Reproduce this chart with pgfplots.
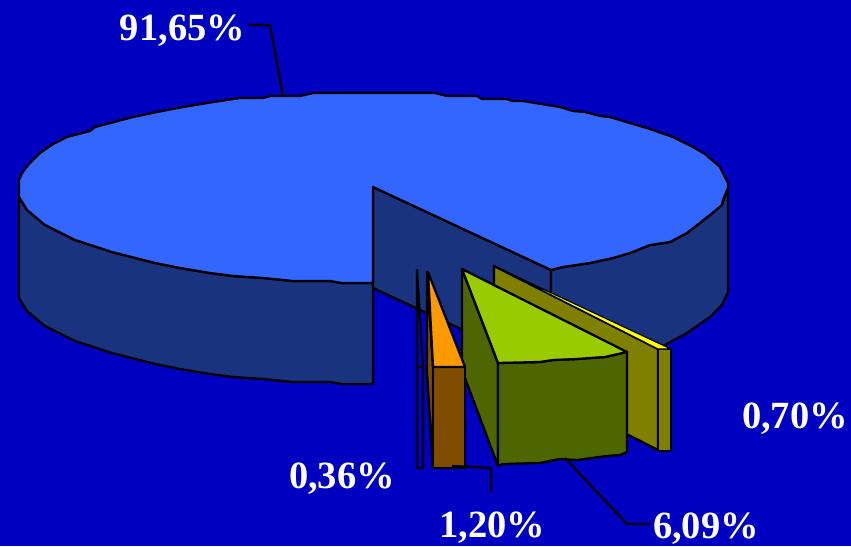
\documentclass[border=0pt]{standalone}
\usepackage{fontspec}
\setmainfont{Liberation Serif}
\usepackage{pgfplots}
\pgfplotsset{compat=1.18}

\definecolor{bgblue}{HTML}{0000C0}
\definecolor{topblue}{HTML}{3366FF}
\definecolor{sideblue}{HTML}{19337F}
\definecolor{topgreen}{HTML}{99CC00}
\definecolor{sidegreen}{HTML}{4D6600}
\definecolor{toporange}{HTML}{FF9900}
\definecolor{sideorange}{HTML}{804D00}
\definecolor{topyellow}{HTML}{FFFF00}
\definecolor{sideyellow}{HTML}{808000}

\tikzset{lbl/.style={font=\fontsize{38.5}{39}\selectfont\bfseries, text=white, anchor=base, inner sep=0pt}}

\begin{document}
\begin{tikzpicture}
\begin{axis}[
	scale only axis,
	width=851pt,
	height=546pt,
	xmin=0, xmax=851,
	ymin=0, ymax=546,
	y dir=reverse,
	hide axis,
	clip=true,
	every axis plot/.append style={line width=2.3pt, line join=round},
	]

	% background
	\addplot [fill=bgblue, draw=none] coordinates {(0,0) (851,0) (851,546) (0,546)} -- cycle;

	% 91,65% slice: inner cut wall
	\addplot [fill=sideblue, draw=black] coordinates {(373,187) (551,270) (551,371) (373,288)} -- cycle;
	% outer side, left part
	\addplot [fill=sideblue, draw=black] coordinates {
	(19,197) (27,210) (45,225) (75,240) (112,252) (155,263) (180,268) (210,273) (233,276)
	(263,278) (293,281) (330,281) (342,283) (373,283) (373,384) (342,384) (330,382) (293,382)
	(263,379) (233,377) (210,374) (180,369) (155,364) (112,353) (75,341) (45,326) (27,311) (19,298)
	} -- cycle;
	% outer side, right part
	\addplot [fill=sideblue, draw=black] coordinates {
	(551,270) (563,267) (590,263) (613,258) (630,253) (650,245) (670,242) (687,233) (710,215)
	(722,205) (728,188) (728,292) (722,305) (710,317) (687,333) (663,346) (630,354) (551,371)
	} -- cycle;
	% top
	\addplot [fill=topblue, draw=black] coordinates {
	(19,197) (19,180) (22,173) (28,165) (33,160) (40,153) (53,144) (67,137) (90,131) (95,127)
	(133,117) (157,112) (183,107) (207,103) (240,98) (263,98) (270,96) (300,96) (313,93) (435,93)
	(447,96) (477,96) (482,99) (507,99) (512,101) (523,101) (560,107) (573,111) (585,112) (600,116)
	(610,117) (633,124) (647,128) (673,137) (693,147) (705,154) (720,167) (728,183) (728,188)
	(723,200) (722,205) (710,215) (687,233) (670,242) (650,245) (630,253) (613,258) (590,263)
	(563,267) (551,270) (373,187) (373,283) (342,283) (330,281) (293,281) (263,278) (233,276)
	(210,273) (180,268) (155,263) (112,252) (75,240) (45,225) (27,210)
	} -- cycle;

	% 0,70% slice
	\addplot [fill=sideyellow, draw=black] coordinates {(494,266) (658,349) (658,450) (494,367)} -- cycle;
	\addplot [fill=sideyellow, draw=black] coordinates {(658,349) (671,349) (671,451) (658,451)} -- cycle;
	\addplot [fill=topyellow, draw=black, line width=1.2pt] coordinates {(494,266) (671,349) (658,349)} -- cycle;

	% 6,09% slice
	\addplot [fill=sidegreen, draw=black] coordinates {(462,269) (498,363) (498,466) (462,370)} -- cycle;
	\addplot [fill=sidegreen, draw=black] coordinates {
	(498,363) (540,362) (553,360) (577,359) (605,357) (627,352) (627,452) (620,455) (607,456)
	(577,460) (560,459) (540,463) (503,464) (498,466)
	} -- cycle;
	\addplot [fill=topgreen, draw=black] coordinates {
	(462,269) (627,352) (605,357) (577,359) (553,360) (540,362) (498,363)
	} -- cycle;

	% 1,20% slice
	\addplot [fill=sideorange, draw=black] coordinates {(427,272) (433,367) (433,468) (427,372)} -- cycle;
	\addplot [fill=sideorange, draw=black] coordinates {(433,367) (465,367) (465,468) (433,468)} -- cycle;
	\addplot [fill=toporange, draw=black] coordinates {(428,272) (465,367) (433,367)} -- cycle;

	% 0,36% slice
	\addplot [fill=bgblue, draw=black] coordinates {(417,270) (423,367) (423,468) (417,468)} -- cycle;
	\addplot [draw=black] coordinates {(417,367) (423,367)};

	% leader lines
	\addplot [draw=black] coordinates {(248,25) (270,25) (283,96)};
	\addplot [draw=black] coordinates {(452,466) (491,468) (491,492)};
	\addplot [draw=black] coordinates {(565,458) (627,524) (650,524)};

	% labels
	\node [lbl] at (axis cs:182.5,40) {91,65\%};
	\node [lbl] at (axis cs:795,428) {0,70\%};
	\node [lbl] at (axis cs:342,488) {0,36\%};
	\node [lbl] at (axis cs:492.5,537) {1,20\%};
	\node [lbl] at (axis cs:706,538) {6,09\%};

\end{axis}
\end{tikzpicture}
\end{document}
